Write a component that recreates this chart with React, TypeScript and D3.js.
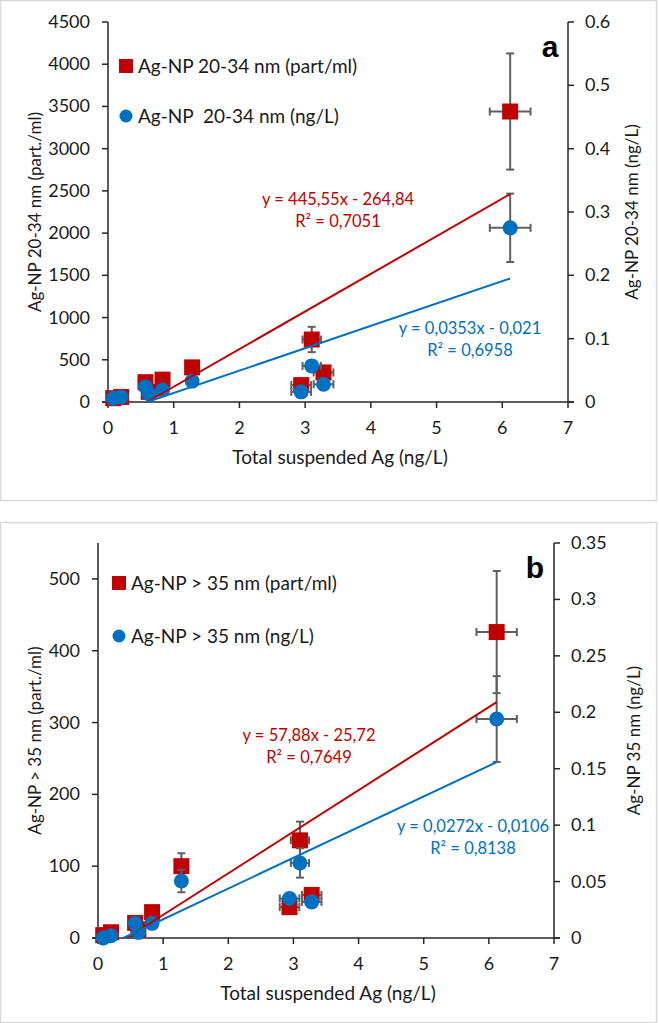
import React from "react";
import * as d3 from "d3";

// ---- data (shared x values) ----
const totalAg = [0.08, 0.2, 0.57, 0.62, 0.83, 1.28, 2.94, 3.1, 3.28, 6.12];
const totalAgErr = [0.03, 0.03, 0.05, 0.05, 0.05, 0.05, 0.15, 0.14, 0.15, 0.31];

// panel a
const aPart = [45, 60, 235, 120, 265, 410, 200, 740, 350, 3440];
const aPartErr = [10, 10, 30, 20, 30, 40, 40, 150, 60, 688];
const aMass = [0.006, 0.008, 0.024, 0.013, 0.019, 0.033, 0.016, 0.057, 0.028, 0.275];
const aMassErr = [0.001, 0.001, 0.003, 0.002, 0.003, 0.004, 0.003, 0.008, 0.004, 0.054];

// panel b
const bPart = [4, 8, 21, 12, 36, 100, 43, 136, 60, 426];
const bPartErr = [1, 1, 3, 2, 4, 18, 5, 26, 6, 85];
const bMass = [0.0, 0.002, 0.013, 0.005, 0.013, 0.0505, 0.035, 0.0665, 0.032, 0.194];
const bMassErr = [0.0005, 0.0005, 0.002, 0.001, 0.002, 0.01, 0.004, 0.013, 0.004, 0.038];

const xTicks = [0, 1, 2, 3, 4, 5, 6, 7];
const aLeftTicks = [0, 500, 1000, 1500, 2000, 2500, 3000, 3500, 4000, 4500];
const aRightTicks = [0, 0.1, 0.2, 0.3, 0.4, 0.5, 0.6];
const bLeftTicks = [0, 100, 200, 300, 400, 500];
const bRightTicks = [0, 0.05, 0.1, 0.15, 0.2, 0.25, 0.3, 0.35];

const RED = "#c00000";
const BLUE = "#0070c0";
const AXIS = "#262626";
const ERR = "#5f5f5f";
const FONT = "Lato, 'Open Sans', sans-serif";

type PanelProps = {
  top: number;
  height: number;
  x0: number;
  x1: number;
  yBottom: number;
  yTop: number;
  leftMax: number;
  rightMax: number;
  leftTicks: number[];
  rightTicks: number[];
  part: number[];
  partErr: number[];
  mass: number[];
  massErr: number[];
  fitPart: [number, number];
  fitMass: [number, number];
  eqPart: string[];
  eqMass: string[];
  eqPartPos: [number, number];
  eqMassPos: [number, number];
  legPart: string;
  legMass: string;
  legX: number;
  legY1: number;
  legY2: number;
  letter: string;
  letterPos: [number, number];
  leftTitle: string;
  rightTitle: string;
  rightTitleX: number;
};

function ErrorBars({ xs, ys, xe, ye, xS, yS }: any) {
  return (
    <g stroke={ERR} strokeWidth={2} fill="none">
      {xs.map((xv: number, i: number) => {
        const cx = xS(xv);
        const cy = yS(ys[i]);
        const yt = yS(ys[i] + ye[i]);
        const yb = yS(Math.max(0, ys[i] - ye[i]));
        const xl = xS(xv - xe[i]);
        const xr = xS(xv + xe[i]);
        return (
          <g key={i}>
            <line x1={cx} x2={cx} y1={yt} y2={yb} />
            <line x1={cx - 4} x2={cx + 4} y1={yt} y2={yt} />
            <line x1={cx - 4} x2={cx + 4} y1={yb} y2={yb} />
            <line x1={xl} x2={xr} y1={cy} y2={cy} />
            <line x1={xl} x2={xl} y1={cy - 4} y2={cy + 4} />
            <line x1={xr} x2={xr} y1={cy - 4} y2={cy + 4} />
          </g>
        );
      })}
    </g>
  );
}

function Trend({ fit, xS, yS, color }: any) {
  const [m, b] = fit;
  const xmin = d3.min(totalAg) as number;
  const xmax = d3.max(totalAg) as number;
  let xs = xmin;
  if (m * xs + b < 0) xs = -b / m;
  const line = d3.line<number>().x((d) => xS(d)).y((d) => yS(m * d + b));
  return <path d={line([xs, xmax]) || ""} stroke={color} strokeWidth={2} fill="none" />;
}

function Panel(p: PanelProps) {
  const xS = d3.scaleLinear().domain([0, 7]).range([p.x0, p.x1]);
  const yL = d3.scaleLinear().domain([0, p.leftMax]).range([p.yBottom, p.yTop]);
  const yR = d3.scaleLinear().domain([0, p.rightMax]).range([p.yBottom, p.yTop]);
  const midY = (p.yBottom + p.yTop) / 2;
  const fmtR = (v: number) => String(+v.toFixed(2));
  return (
    <g>
      <rect x={0.5} y={p.top + 0.5} width={656} height={p.height} fill="#fff" stroke="#d9d9d9" strokeWidth={1.5} />
      {/* axes */}
      <g stroke={AXIS} strokeWidth={1.5}>
        <line x1={p.x0} x2={p.x0} y1={p.yTop} y2={p.yBottom} />
        <line x1={p.x1} x2={p.x1} y1={p.yTop} y2={p.yBottom} />
        <line x1={p.x0 - 6} x2={p.x1 + 6} y1={p.yBottom} y2={p.yBottom} />
        {xTicks.map((t) => (
          <line key={"xt" + t} x1={xS(t)} x2={xS(t)} y1={p.yBottom} y2={p.yBottom + 6} />
        ))}
        {p.leftTicks.map((t) => (
          <line key={"lt" + t} x1={p.x0 - 6} x2={p.x0} y1={yL(t)} y2={yL(t)} />
        ))}
        {p.rightTicks.map((t) => (
          <line key={"rt" + t} x1={p.x1} x2={p.x1 + 6} y1={yR(t)} y2={yR(t)} />
        ))}
      </g>
      <g fontFamily={FONT} fontSize={18} fill="#1a1a1a">
        {xTicks.map((t) => (
          <text key={"xl" + t} x={xS(t)} y={p.yBottom + 32} textAnchor="middle">
            {t}
          </text>
        ))}
        {p.leftTicks.map((t) => (
          <text key={"ll" + t} x={p.x0 - 18} y={yL(t) + 6} textAnchor="end">
            {t}
          </text>
        ))}
        {p.rightTicks.map((t) => (
          <text key={"rl" + t} x={p.x1 + 17} y={yR(t) + 6} textAnchor="start">
            {fmtR(t)}
          </text>
        ))}
        <text x={(p.x0 + p.x1) / 2 + 2} y={p.yBottom + 62} textAnchor="middle" fontSize={19}>
          Total suspended Ag (ng/L)
        </text>
        <text transform={`translate(41,${midY}) rotate(-90)`} textAnchor="middle" fontSize={17}>
          {p.leftTitle}
        </text>
        <text transform={`translate(${p.rightTitleX},${midY}) rotate(-90)`} textAnchor="middle" fontSize={17}>
          {p.rightTitle}
        </text>
      </g>
      {/* series */}
      <ErrorBars xs={totalAg} ys={p.part} xe={totalAgErr} ye={p.partErr} xS={xS} yS={yL} />
      <g fill={RED}>
        {totalAg.map((xv, i) => (
          <rect key={i} x={xS(xv) - 8} y={yL(p.part[i]) - 8} width={16} height={16} />
        ))}
      </g>
      <ErrorBars xs={totalAg} ys={p.mass} xe={totalAgErr} ye={p.massErr} xS={xS} yS={yR} />
      <g fill={BLUE}>
        {totalAg.map((xv, i) => (
          <circle key={i} cx={xS(xv)} cy={yR(p.mass[i])} r={7.5} />
        ))}
      </g>
      <Trend fit={p.fitPart} xS={xS} yS={yL} color={RED} />
      <Trend fit={p.fitMass} xS={xS} yS={yR} color={BLUE} />
      {/* equations */}
      <g fontFamily={FONT} fontSize={16.5} textAnchor="middle">
        {p.eqPart.map((s, i) => (
          <text key={i} x={p.eqPartPos[0]} y={p.eqPartPos[1] + i * 22} fill={RED}>
            {s}
          </text>
        ))}
        {p.eqMass.map((s, i) => (
          <text key={i} x={p.eqMassPos[0]} y={p.eqMassPos[1] + i * 22} fill={BLUE}>
            {s}
          </text>
        ))}
      </g>
      {/* legend */}
      <rect x={p.legX - 7} y={p.legY1 - 7} width={14} height={14} fill={RED} />
      <circle cx={p.legX} cy={p.legY2} r={6.5} fill={BLUE} />
      <g fontFamily={FONT} fontSize={19} fill="#1a1a1a">
        <text x={p.legX + 12} y={p.legY1 + 7} style={{ whiteSpace: "pre" }}>
          {p.legPart}
        </text>
        <text x={p.legX + 12} y={p.legY2 + 7} style={{ whiteSpace: "pre" }}>
          {p.legMass}
        </text>
      </g>
      <text x={p.letterPos[0]} y={p.letterPos[1]} fontFamily="'Liberation Sans', Arial, sans-serif" fontWeight="bold" fontSize={30} textAnchor="middle" fill="#000">
        {p.letter}
      </text>
    </g>
  );
}

export default function App() {
  return (
    <svg width={659} height={1023} style={{ position: "absolute", left: 0, top: 0, background: "#fff" }}>
      <Panel
        top={0}
        height={500}
        x0={108}
        x1={568}
        yBottom={402}
        yTop={22}
        leftMax={4500}
        rightMax={0.6}
        leftTicks={aLeftTicks}
        rightTicks={aRightTicks}
        part={aPart}
        partErr={aPartErr}
        mass={aMass}
        massErr={aMassErr}
        fitPart={[445.55, -264.84]}
        fitMass={[0.0353, -0.021]}
        eqPart={["y = 445,55x - 264,84", "R² = 0,7051"]}
        eqMass={["y = 0,0353x - 0,021", "R² = 0,6958"]}
        eqPartPos={[338, 205]}
        eqMassPos={[470, 334]}
        legPart="Ag-NP 20-34 nm (part/ml)"
        legMass="Ag-NP  20-34 nm (ng/L)"
        legX={126}
        legY1={66}
        legY2={116}
        letter="a"
        letterPos={[550, 57]}
        leftTitle="Ag-NP 20-34 nm (part./ml)"
        rightTitle="Ag-NP 20-34 nm (ng/L)"
        rightTitleX={638}
      />
      <Panel
        top={522}
        height={500}
        x0={98}
        x1={554}
        yBottom={938}
        yTop={543}
        leftMax={550}
        rightMax={0.35}
        leftTicks={bLeftTicks}
        rightTicks={bRightTicks}
        part={bPart}
        partErr={bPartErr}
        mass={bMass}
        massErr={bMassErr}
        fitPart={[57.88, -25.72]}
        fitMass={[0.0272, -0.0106]}
        eqPart={["y = 57,88x - 25,72", "R² = 0,7649"]}
        eqMass={["y = 0,0272x - 0,0106", "R² = 0,8138"]}
        eqPartPos={[309, 741]}
        eqMassPos={[473, 832]}
        legPart="Ag-NP > 35 nm (part/ml)"
        legMass="Ag-NP > 35 nm (ng/L)"
        legX={119}
        legY1={583}
        legY2={636}
        letter="b"
        letterPos={[535, 578]}
        leftTitle="Ag-NP > 35 nm (part./ml)"
        rightTitle="Ag-NP 35 nm (ng/L)"
        rightTitleX={640}
      />
    </svg>
  );
}
